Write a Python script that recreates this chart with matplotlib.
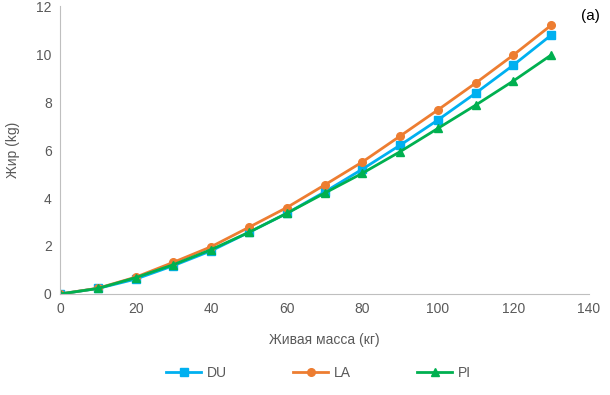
import matplotlib
matplotlib.use("Agg")
import matplotlib.pyplot as plt

plt.rcParams['font.family'] = ['Liberation Sans', 'DejaVu Sans']

# Data
massa = [0, 10, 20, 30, 40, 50, 60, 70, 80, 90, 100, 110, 120, 130]
du = [0, 0.23, 0.62, 1.18, 1.80, 2.57, 3.36, 4.25, 5.20, 6.20, 7.25, 8.37, 9.54, 10.79]
la = [0, 0.24, 0.70, 1.32, 1.97, 2.78, 3.60, 4.54, 5.50, 6.58, 7.67, 8.79, 9.96, 11.20]
pi = [0, 0.23, 0.68, 1.22, 1.85, 2.57, 3.36, 4.20, 5.03, 5.93, 6.90, 7.87, 8.88, 9.96]

grey = "#595959"

fig = plt.figure(figsize=(6.1, 3.95), dpi=100)
ax = fig.add_axes([0.0984, 0.2557, 0.8672, 0.7291])

ax.plot(massa, du, color="#00B0F0", marker="s", markersize=5.5, linewidth=2, label="DU")
ax.plot(massa, la, color="#ED7D31", marker="o", markersize=5.5, linewidth=2, label="LA")
ax.plot(massa, pi, color="#00B050", marker="^", markersize=5.5, linewidth=2, label="PI")

ax.set_xlim(0, 140)
ax.set_ylim(0, 12)
ax.set_xticks(range(0, 141, 20))
ax.set_yticks(range(0, 13, 2))
ax.tick_params(colors=grey, labelsize=10, length=0, pad=6)

for s in ["top", "right"]:
    ax.spines[s].set_visible(False)
for s in ["left", "bottom"]:
    ax.spines[s].set_color("#BFBFBF")

ax.set_xlabel("Живая масса (кг)", color=grey, fontsize=10, labelpad=12)
ax.set_ylabel("Жир (kg)", color=grey, fontsize=10, labelpad=12)

fig.text(0.983, 0.96, "(a)", fontsize=11, color="black", ha="right", va="center")

fig.legend(loc="center", bbox_to_anchor=(0.522, 0.055), ncol=3, frameon=False,
           fontsize=10, labelcolor=grey, columnspacing=4.8, handlelength=2.5,
           handletextpad=0.4)

fig.savefig("out.png", dpi=100)
